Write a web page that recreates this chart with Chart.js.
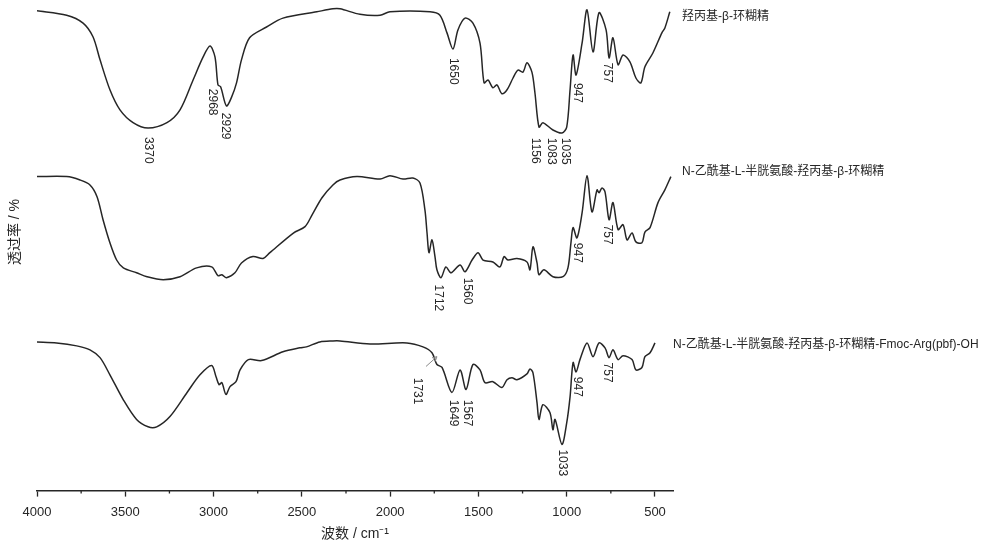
<!DOCTYPE html>
<html>
<head>
<meta charset="utf-8">
<script src="https://cdn.jsdelivr.net/npm/chart.js@4.4.1/dist/chart.umd.min.js"></script>
<style>
  html, body { margin: 0; padding: 0; background: #fff; }
  #wrap { width: 1000px; height: 548px; }
</style>
</head>
<body>
<div id="wrap"><canvas id="irChart" width="1000" height="548"></canvas></div>
<script>
// wavenumber (cm-1) and transmittance (offset, a.u.)
const wn1 = [4000, 3832, 3739, 3683, 3643, 3587, 3530, 3456, 3371, 3264, 3190, 3116, 3059, 3020, 2992, 2975, 2960, 2927, 2898, 2870, 2842, 2796, 2700, 2607, 2415, 2324, 2284, 2171, 2057, 2001, 1774, 1718, 1678, 1644, 1616, 1576, 1531, 1491, 1468, 1446, 1418, 1395, 1367, 1338, 1304, 1276, 1248, 1225, 1197, 1180, 1157, 1135, 1078, 1027, 1000, 981, 964, 947, 913, 885, 851, 817, 777, 760, 738, 709, 681, 642, 608, 580, 557, 512, 461, 444, 416];
const t1 = [97.8, 96.9, 95.3, 92.5, 87.8, 81.7, 77.6, 75.0, 73.9, 75.0, 77.6, 83.7, 88.4, 90.6, 88.4, 82.7, 82.3, 78.4, 80.2, 83.1, 87.8, 92.3, 94.5, 96.3, 97.6, 98.2, 98.2, 97.1, 96.9, 97.6, 97.6, 96.9, 93.3, 90.0, 93.9, 96.3, 95.3, 91.2, 83.1, 83.7, 82.1, 82.7, 80.9, 81.7, 84.1, 85.7, 85.3, 87.2, 85.3, 81.1, 74.1, 75.0, 73.5, 72.9, 74.1, 81.7, 88.8, 84.7, 91.2, 98.0, 89.4, 97.4, 93.9, 88.2, 92.3, 86.8, 88.8, 87.4, 84.1, 83.1, 86.4, 89.2, 93.3, 94.3, 97.6];

const wn2 = [4000, 3832, 3756, 3700, 3660, 3626, 3587, 3549, 3511, 3436, 3377, 3285, 3190, 3096, 3011, 2975, 2953, 2927, 2879, 2842, 2777, 2720, 2681, 2548, 2482, 2442, 2386, 2324, 2284, 2188, 2057, 2001, 1927, 1871, 1831, 1803, 1791, 1780, 1763, 1746, 1735, 1712, 1684, 1655, 1604, 1576, 1536, 1502, 1474, 1418, 1378, 1355, 1333, 1282, 1225, 1208, 1191, 1168, 1157, 1129, 1078, 1021, 993, 976, 964, 942, 913, 885, 857, 828, 817, 800, 783, 760, 738, 709, 681, 658, 630, 608, 574, 557, 528, 483, 444, 410];
const t2 = [64.0, 64.0, 63.3, 62.3, 59.9, 55.2, 50.5, 47.0, 45.4, 44.4, 43.6, 43.0, 43.6, 45.4, 45.6, 43.8, 44.0, 43.4, 44.4, 46.4, 47.7, 47.3, 48.5, 52.5, 53.8, 56.2, 59.7, 62.3, 63.3, 64.0, 63.5, 64.2, 63.5, 63.7, 62.7, 57.2, 52.5, 48.5, 51.1, 47.7, 45.0, 43.4, 45.6, 44.4, 46.0, 44.6, 47.0, 48.5, 47.0, 46.6, 45.6, 47.7, 47.0, 47.3, 46.6, 45.0, 49.7, 46.4, 44.0, 45.0, 43.6, 43.6, 45.4, 50.5, 53.6, 51.5, 56.6, 64.2, 56.8, 61.3, 60.7, 61.7, 60.9, 55.2, 58.7, 53.2, 54.2, 51.1, 52.5, 50.7, 50.5, 52.7, 53.6, 58.7, 61.3, 64.0];

const wn3 = [4000, 3889, 3775, 3700, 3643, 3587, 3511, 3436, 3371, 3322, 3247, 3150, 3077, 3011, 2986, 2969, 2953, 2930, 2907, 2873, 2850, 2803, 2728, 2607, 2511, 2474, 2398, 2324, 2284, 2114, 1905, 1814, 1763, 1735, 1706, 1650, 1604, 1570, 1531, 1491, 1463, 1418, 1367, 1338, 1310, 1282, 1225, 1208, 1191, 1168, 1157, 1135, 1095, 1078, 1066, 1027, 1000, 981, 964, 947, 925, 885, 851, 817, 783, 760, 738, 709, 681, 630, 608, 574, 557, 528, 500];
const t3 = [30.3, 30.1, 29.5, 28.7, 27.1, 23.6, 18.5, 14.5, 13.0, 13.0, 15.1, 20.0, 23.6, 25.5, 23.2, 21.6, 22.0, 19.6, 21.2, 22.2, 24.6, 26.7, 26.5, 28.3, 29.1, 29.3, 30.3, 30.5, 30.5, 29.9, 30.1, 29.3, 28.1, 25.7, 25.1, 20.0, 24.6, 20.6, 25.7, 24.6, 22.0, 22.2, 21.0, 22.6, 23.0, 22.6, 23.8, 24.8, 24.0, 17.9, 14.5, 17.5, 15.9, 12.4, 14.5, 9.4, 13.8, 19.1, 26.1, 24.2, 26.7, 30.1, 27.3, 30.1, 29.1, 27.1, 28.7, 26.7, 27.5, 26.7, 24.6, 25.1, 27.3, 28.1, 30.1];

const seriesNames = [
  '羟丙基-β-环糊精',
  'N-乙酰基-L-半胱氨酸-羟丙基-β-环糊精',
  'N-乙酰基-L-半胱氨酸-羟丙基-β-环糊精-Fmoc-Arg(pbf)-OH'
];

const xTicks = [4000, 3500, 3000, 2500, 2000, 1500, 1000, 500];

// peak labels: [text, wavenumber, transmittance]
const peaks = [
  ['3370', 3371, 72.1], ['2968', 3009, 81.9], ['2929', 2935, 77.0],
  ['1650', 1644, 88.2], ['1156', 1180, 71.9], ['1083', 1089, 71.9],
  ['1035', 1010, 71.9], ['947', 942, 83.1], ['757', 772, 87.2],
  ['1712', 1729, 42.0], ['1560', 1565, 43.4], ['947', 942, 50.5], ['757', 772, 54.2],
  ['1731', 1848, 23.0], ['1649', 1644, 18.5], ['1567', 1565, 18.5],
  ['1033', 1027, 8.4], ['947', 942, 23.2], ['757', 772, 26.1]
];

const FONT = '"Liberation Sans", Arial, "Noto Sans CJK SC", sans-serif';
const INK = '#262626';

function toPoints(wn, t) {
  return wn.map((w, i) => ({ x: w, y: t[i] }));
}

const seriesLabelY = [96.5, 65.0, 29.7];
const seriesLabelDx = [9, 9, 0];

const textPlugin = {
  id: 'irText',
  afterDraw(chart) {
    const { ctx, chartArea, scales } = chart;
    const xs = scales.x;
    const ys = scales.y;
    ctx.save();
    ctx.fillStyle = INK;

    // y axis title
    ctx.save();
    ctx.translate(15, 232);
    ctx.rotate(-Math.PI / 2);
    ctx.font = '14px ' + FONT;
    ctx.textAlign = 'center';
    ctx.textBaseline = 'middle';
    ctx.fillText('透过率 / %', 0, 0);
    ctx.restore();

    // curve names
    ctx.font = '12px ' + FONT;
    ctx.textAlign = 'left';
    ctx.textBaseline = 'middle';
    seriesNames.forEach((name, i) => {
      ctx.fillText(name, chartArea.right + seriesLabelDx[i], ys.getPixelForValue(seriesLabelY[i]));
    });

    // peak labels, rotated
    ctx.font = '12px ' + FONT;
    peaks.forEach(([txt, w, t]) => {
      ctx.save();
      ctx.translate(xs.getPixelForValue(w), ys.getPixelForValue(t));
      ctx.rotate(Math.PI / 2);
      ctx.textAlign = 'left';
      ctx.textBaseline = 'middle';
      ctx.fillText(txt, 0, 0);
      ctx.restore();
    });

    // arrow to the 1731 shoulder
    const ax0 = xs.getPixelForValue(1797), ay0 = ys.getPixelForValue(25.3);
    const ax1 = xs.getPixelForValue(1735), ay1 = ys.getPixelForValue(27.3);
    const ang = Math.atan2(ay1 - ay0, ax1 - ax0);
    ctx.strokeStyle = '#8a8a8a';
    ctx.lineWidth = 1;
    ctx.beginPath();
    ctx.moveTo(ax0, ay0);
    ctx.lineTo(ax1, ay1);
    ctx.moveTo(ax1 - 5 * Math.cos(ang - 0.5), ay1 - 5 * Math.sin(ang - 0.5));
    ctx.lineTo(ax1, ay1);
    ctx.lineTo(ax1 - 5 * Math.cos(ang + 0.5), ay1 - 5 * Math.sin(ang + 0.5));
    ctx.stroke();

    // minor ticks
    ctx.strokeStyle = INK;
    ctx.lineWidth = 1.3;
    ctx.beginPath();
    for (let w = 3750; w > xs.min; w -= 500) {
      const px = xs.getPixelForValue(w);
      ctx.moveTo(px, chartArea.bottom);
      ctx.lineTo(px, chartArea.bottom + 3);
    }
    ctx.stroke();
    ctx.restore();
  }
};

const lineStyle = {
  borderColor: INK,
  borderWidth: 1.5,
  pointRadius: 0,
  fill: false,
  tension: 0.3
};

new Chart(document.getElementById('irChart'), {
  type: 'line',
  data: {
    datasets: [
      { label: seriesNames[0], data: toPoints(wn1, t1), ...lineStyle },
      { label: seriesNames[1], data: toPoints(wn2, t2), ...lineStyle },
      { label: seriesNames[2], data: toPoints(wn3, t3), ...lineStyle }
    ]
  },
  options: {
    responsive: false,
    animation: false,
    layout: { padding: { left: 37, right: 327, top: 0, bottom: 3 } },
    plugins: { legend: { display: false }, tooltip: { enabled: false } },
    scales: {
      x: {
        type: 'linear',
        reverse: true,
        min: 398,
        max: 4000,
        afterBuildTicks: (axis) => {
          axis.ticks = xTicks.map((v) => ({ value: v }));
        },
        ticks: {
          color: INK,
          font: { family: FONT, size: 13 },
          padding: 8,
          maxRotation: 0,
          autoSkip: false,
          callback: (v) => String(v)
        },
        grid: {
          drawOnChartArea: false,
          tickLength: 6,
          tickColor: INK,
          tickWidth: 1.3
        },
        border: { color: INK, width: 1.5 },
        title: {
          display: true,
          text: '波数 / cm⁻¹',
          color: INK,
          font: { family: FONT, size: 14 },
          padding: { top: -2, bottom: 2 }
        }
      },
      y: {
        display: false,
        min: 0,
        max: 100
      }
    }
  },
  plugins: [textPlugin]
});
</script>
</body>
</html>
